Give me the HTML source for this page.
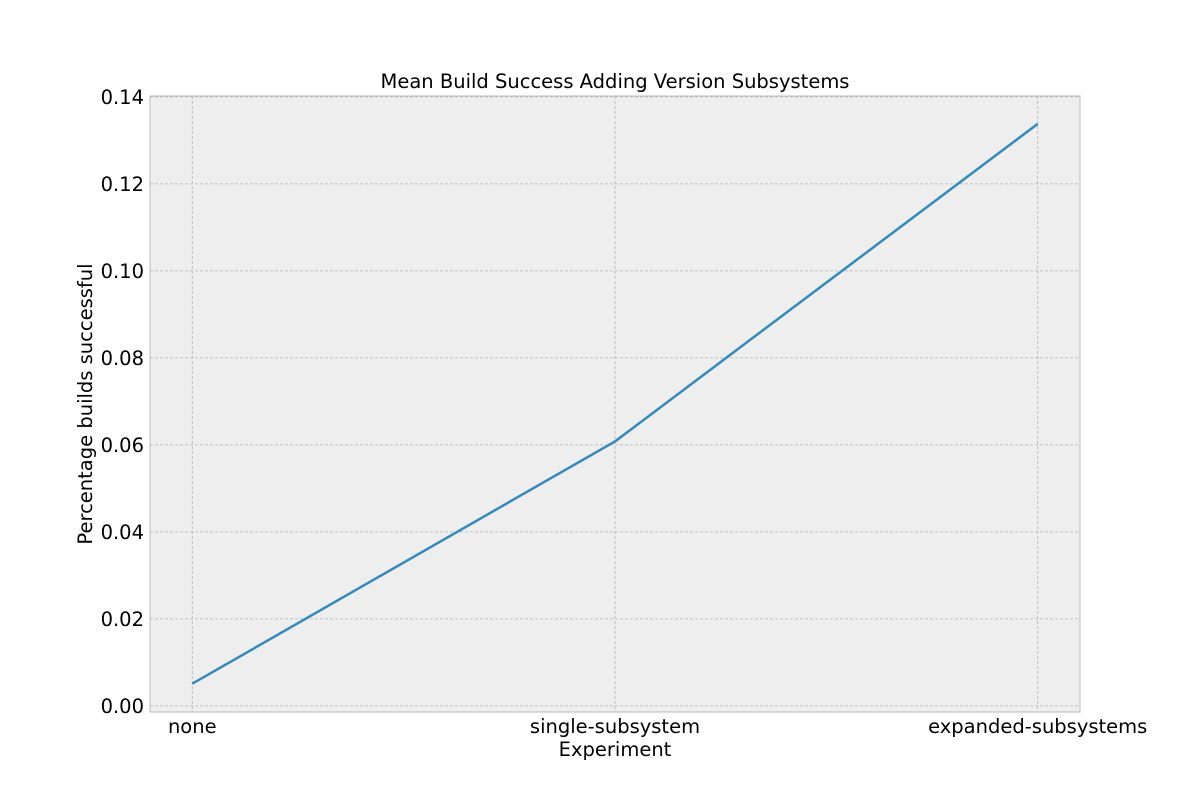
<!DOCTYPE html>
<html><head><meta charset="utf-8"><style>
body{margin:0;background:#fff;font-family:"DejaVu Sans","Liberation Sans",sans-serif}
</style></head><body>
<svg width="1200" height="800" id="c" xmlns="http://www.w3.org/2000/svg">
<rect x="150" y="96" width="930" height="616" fill="#eeeeee"/>
<g id="grid"></g><g id="ticks"></g>
<rect x="150" y="96" width="930" height="616" fill="none" stroke="#bcbcbc" stroke-width="1"/>
<path id="line" fill="none" stroke="#348abd" stroke-width="2.5"/>
<text x="615" y="88" text-anchor="middle" font-size="19.5">Mean Build Success Adding Version Subsystems</text>
<text x="615" y="756" text-anchor="middle" font-size="19.5">Experiment</text>
<text transform="translate(92,404) rotate(-90)" text-anchor="middle" font-size="19.5">Percentage builds successful</text>
</svg>
<script>
const categories=["none","single-subsystem","expanded-subsystems"];
const values=[0.0051,0.0608,0.1338];
const yTicks=[0,0.02,0.04,0.06,0.08,0.1,0.12,0.14];
const yLabels=["0.00","0.02","0.04","0.06","0.08","0.10","0.12","0.14"];
const L=150,R=1080,T=96,B=712,ymin=-0.0014,ymax=0.1402;
const xs=i=>L+(i+0.1)/(categories.length-1+0.2)*(R-L);
const ys=v=>B-(v-ymin)/(ymax-ymin)*(B-T);
const NS="http://www.w3.org/2000/svg";
const g=document.getElementById('grid'),tk=document.getElementById('ticks');
function mk(tag,at,parent){const e=document.createElementNS(NS,tag);for(const k in at)e.setAttribute(k,at[k]);parent.appendChild(e);return e;}
yTicks.forEach((v,i)=>{const y=ys(v);
const l=mk('line',{x1:L,x2:R,y1:y,y2:y,stroke:'#b2b2b2','stroke-width':0.8,'stroke-dasharray':'3,2'},g);


const t=mk('text',{x:L-6,y:y+7,'text-anchor':'end','font-size':19.5},tk);t.textContent=yLabels[i];


});
categories.forEach((c,i)=>{const x=xs(i);
const l=mk('line',{x1:x,x2:x,y1:T,y2:B,stroke:'#b2b2b2','stroke-width':0.8,'stroke-dasharray':'3,2'},g);


const t=mk('text',{x:x,y:733,'text-anchor':'middle','font-size':19.5},tk);t.textContent=c;


});
document.getElementById('line').setAttribute('d',values.map((v,i)=>(i?'L':'M')+xs(i)+','+ys(v)).join(' '));
</script>
</body></html>
